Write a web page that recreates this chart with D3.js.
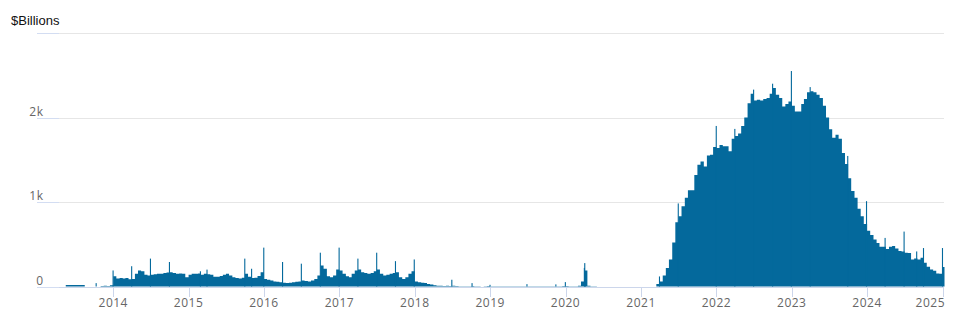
<!DOCTYPE html>
<html>
<head>
<meta charset="utf-8">
<script src="https://cdn.jsdelivr.net/npm/d3@7"></script>
<style>
  html, body { margin: 0; padding: 0; background: #fff; }
  #vis-container { width: 961px; height: 322px; }
</style>
</head>
<body>
<div id="vis-container"></div>
<script>
// Valores em $ mil milhões, um por quinzena (dia 1 e dia 16 de cada mês)
const firstYear = 2013;
const v2013 = [0, 0, 0, 0, 0, 0, 0, 0, 0, 18, 18, 18, 18, 18, 18, 0, 0, 0, 0, 0, 5, 10, 5, 15];
const v2014 = [120, 95, 100, 95, 100, 85, 90, 150, 190, 180, 140, 130, 140, 145, 150, 150, 160, 165, 170, 160, 150, 155, 150, 110];
const v2015 = [140, 150, 150, 155, 140, 150, 145, 140, 115, 115, 125, 140, 150, 130, 110, 100, 95, 105, 150, 115, 100, 105, 125, 170];
const v2016 = [90, 80, 70, 60, 55, 50, 45, 40, 45, 50, 55, 60, 70, 65, 60, 70, 90, 130, 250, 210, 120, 110, 130, 200];
const v2017 = [190, 150, 120, 110, 150, 190, 200, 170, 160, 150, 160, 180, 200, 150, 130, 140, 150, 160, 170, 110, 90, 110, 150, 180];
const v2018 = [60, 50, 45, 40, 30, 25, 15, 10, 8, 5, 10, 5, 8, 5, 3, 3, 2, 3, 5, 2, 2, 1, 2, 5];
const v2019 = [2, 3, 2, 2, 3, 2, 2, 3, 2, 2, 3, 4, 3, 2, 2, 3, 2, 2, 3, 2, 3, 2, 4, 5];
const v2020 = [5, 4, 3, 4, 8, 60, 190, 10, 3, 2, 1, 1, 1, 1, 1, 1, 0, 0, 0, 0, 0, 0, 0, 0];
const v2021 = [0, 0, 0, 0, 1, 30, 60, 130, 220, 320, 520, 760, 830, 950, 1050, 1140, 1140, 1320, 1440, 1480, 1420, 1550, 1560, 1650];
const v2022 = [1640, 1675, 1660, 1660, 1600, 1750, 1780, 1810, 1900, 2000, 2170, 2280, 2200, 2210, 2200, 2220, 2230, 2280, 2350, 2270, 2230, 2130, 2160, 2190];
const v2023 = [2140, 2070, 2070, 2160, 2220, 2300, 2310, 2300, 2270, 2230, 2140, 2000, 1860, 1760, 1795, 1750, 1580, 1450, 1280, 1130, 1050, 920, 830, 740];
const v2024 = [660, 610, 555, 515, 470, 470, 445, 470, 480, 450, 420, 415, 400, 395, 320, 330, 320, 340, 280, 235, 200, 185, 155, 150];
const v2025 = [230];

// Picos de um só dia (fim de trimestre, etc.)
const spikeDates = ["2013-10-10", "2013-12-31", "2014-03-31", "2014-06-30", "2014-09-30", "2015-02-27", "2015-03-31",
  "2015-09-30", "2015-11-02", "2015-12-31", "2016-03-31", "2016-06-30", "2016-09-30", "2016-12-30",
  "2017-03-31", "2017-06-30", "2017-09-29", "2017-12-29", "2018-06-29", "2018-10-05", "2018-12-31",
  "2019-06-28", "2019-11-15", "2019-12-31", "2020-04-01", "2020-04-03", "2020-04-07", "2021-03-31", "2021-06-30", "2021-12-31",
  "2022-03-31", "2022-06-30", "2022-09-30", "2022-12-30", "2023-03-31", "2023-09-29", "2023-12-29",
  "2024-03-28", "2024-06-28", "2024-08-28", "2024-09-30", "2024-12-31"];
const spikeValues = [40, 190, 240, 330, 290, 180, 200,
  330, 210, 460, 290, 270, 400, 460,
  330, 400, 300, 320, 80, 40, 20,
  28, 25, 52, 220, 277, 150, 119, 983, 1900,
  1865, 2330, 2400, 2550, 2360, 1545, 1010,
  575, 650, 415, 455, 455];

const yTicks = [0, 1000, 2000, 3000];
const yTickLabels = ["0", "1k", "2k", ""];
const yearTicks = [2014, 2015, 2016, 2017, 2018, 2019, 2020, 2021, 2022, 2023, 2024, 2025];

const lastDate = new Date(2025, 0, 10);

// ––––––––––––––––––––––––––––––––––––––––––––––––––––––––––––––––––––––––––––––––

// Dados
const years = [v2013, v2014, v2015, v2016, v2017, v2018, v2019, v2020, v2021, v2022, v2023, v2024, v2025];
const data = [];
years.forEach((vals, yi) => {
  vals.forEach((v, i) => {
    data.push({ date: new Date(firstYear + yi, Math.floor(i / 2), i % 2 ? 16 : 1), value: v });
  });
});
data.push({ date: lastDate, value: data[data.length - 1].value }); // fecho do degrau

const spikes = spikeDates.map((d, i) => ({ date: new Date(d + "T00:00:00"), value: spikeValues[i] }));

// ––––––––––––––––––––––––––––––––––––––––––––––––––––––––––––––––––––––––––––––––

const width = 961, height = 322;
const svg = d3.select("#vis-container").append("svg").attr("width", width).attr("height", height);

const x = d3.scaleTime().domain([new Date(2013, 0, 1), lastDate]).range([37.9, 944.5]);
const y = d3.scaleLinear().domain([0, 3000]).range([286.5, 33]);

// Grelha
svg.append("g")
  .selectAll("line")
  .data(yTicks)
  .enter()
  .append("line")
  .attr("x1", 37)
  .attr("x2", 944)
  .attr("y1", (d) => Math.round(y(d)) + 0.5)
  .attr("y2", (d) => Math.round(y(d)) + 0.5)
  .attr("stroke", (d) => (d === 0 ? "#ccd6eb" : "#e6e6e6"))
  .attr("stroke-width", 1);

svg.append("g")
  .selectAll("line")
  .data(yTicks)
  .enter()
  .append("line")
  .attr("x1", 37)
  .attr("x2", 59)
  .attr("y1", (d) => Math.round(y(d)) + 0.5)
  .attr("y2", (d) => Math.round(y(d)) + 0.5)
  .attr("stroke", "#d3ddf2")
  .attr("stroke-width", 1);

// Área (valores quinzenais)
const area = d3.area()
  .x((d) => x(d.date))
  .y0(y(0))
  .y1((d) => y(d.value))
  .curve(d3.curveStepAfter);

svg.append("path")
  .datum(data)
  .attr("d", area)
  .attr("fill", "#04699c");

// Picos
svg.append("g")
  .selectAll("rect")
  .data(spikes)
  .enter()
  .append("rect")
  .attr("x", (d) => x(d.date) - 0.5)
  .attr("y", (d) => y(d.value))
  .attr("width", 1.1)
  .attr("height", (d) => y(0) - y(d.value))
  .attr("fill", "#04699c");

// Eixo X
const xAxis = svg.append("g");
xAxis.selectAll("line")
  .data(yearTicks)
  .enter()
  .append("line")
  .attr("x1", (d) => Math.round(x(new Date(d, 0, 1))) + 0.5)
  .attr("x2", (d) => Math.round(x(new Date(d, 0, 1))) + 0.5)
  .attr("y1", 287)
  .attr("y2", 297)
  .attr("stroke", "#ccd6eb");

// O último rótulo fica dentro da área do gráfico
xAxis.selectAll("text")
  .data(yearTicks)
  .enter()
  .append("text")
  .attr("x", (d, i) => (i === yearTicks.length - 1 ? 945 : x(new Date(d, 0, 1))))
  .attr("y", 307)
  .attr("text-anchor", (d, i) => (i === yearTicks.length - 1 ? "end" : "middle"))
  .attr("font-family", "Open Sans, sans-serif")
  .attr("font-size", "12px")
  .attr("letter-spacing", "0.5px")
  .attr("fill", "#666")
  .text((d) => d);

// Eixo Y
svg.append("g")
  .selectAll("text")
  .data(yTicks)
  .enter()
  .append("text")
  .attr("x", 43.5)
  .attr("y", (d) => y(d) - 2)
  .attr("text-anchor", "end")
  .attr("font-family", "Open Sans, sans-serif")
  .attr("font-size", "12px")
  .attr("letter-spacing", "0.5px")
  .attr("fill", "#666")
  .text((d, i) => yTickLabels[i]);

// Título
svg.append("text")
  .attr("x", 11)
  .attr("y", 25)
  .attr("font-family", "Liberation Sans, Arial, sans-serif")
  .attr("font-size", "13px")
  .attr("fill", "#111")
  .text("$Billions");
</script>
</body>
</html>
